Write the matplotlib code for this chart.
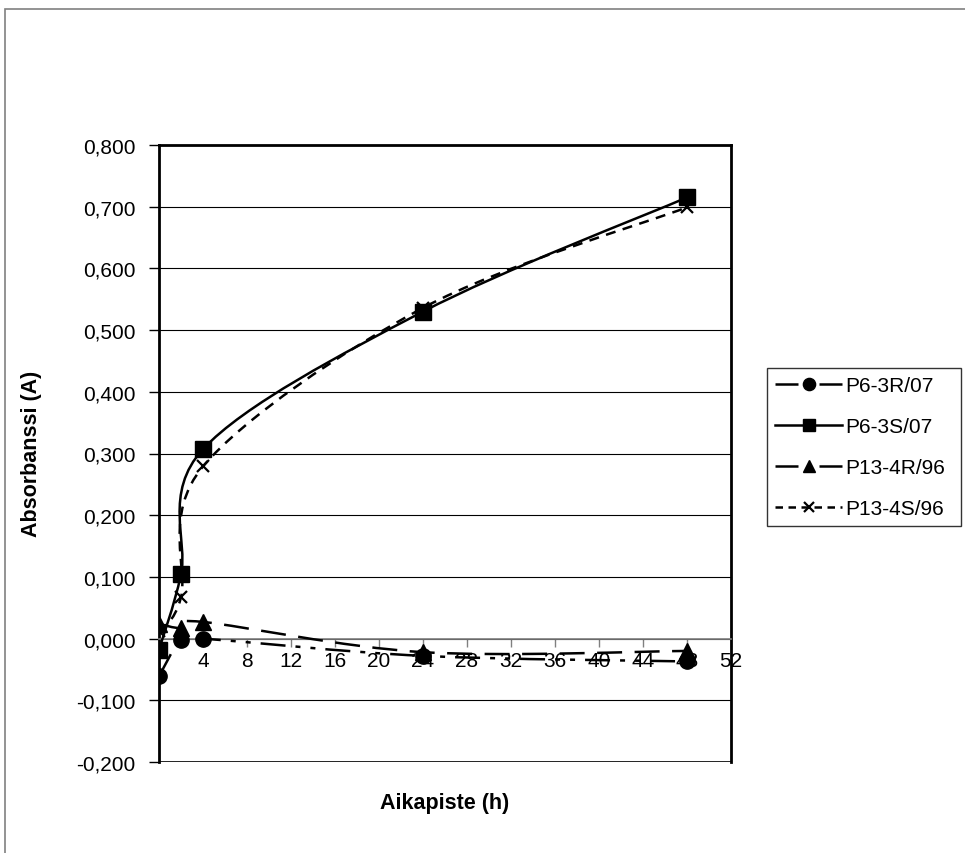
import matplotlib
matplotlib.use("Agg")
import matplotlib.pyplot as plt
import numpy as np
from matplotlib.path import Path
from matplotlib.patches import PathPatch, Rectangle
from matplotlib.lines import Line2D
from matplotlib.ticker import FuncFormatter, MultipleLocator

plt.rcParams["font.family"] = ["Liberation Sans", "DejaVu Sans"]

# data
hours = [0, 2, 4, 24, 48]
p6_3r_07 = [-0.061, -0.002, 0.000, -0.028, -0.037]
p6_3s_07 = [-0.018, 0.104, 0.307, 0.530, 0.715]
p13_4r_96 = [0.024, 0.017, 0.027, -0.022, -0.020]
p13_4s_96 = [0.012, 0.067, 0.279, 0.536, 0.699]
labels = ["P6-3R/07", "P6-3S/07", "P13-4R/96", "P13-4S/96"]

W, H = 965, 854
fig = plt.figure(figsize=(W / 100, H / 100), dpi=100)
fig.patch.set_facecolor("white")

# outer chart border (runs off the right / bottom edge)
fig.patches.append(Rectangle((5 / W, -0.2), 1.5, 1.2 - 10 / H, transform=fig.transFigure,
                             fill=False, edgecolor="#808080", lw=1.2, clip_on=False))

ax = fig.add_axes([159 / W, 1 - 763 / H, (731 - 159) / W, (763 - 146) / H])
ax.set_xlim(0, 52)
ax.set_ylim(-0.2, 0.8)


def smooth(xs, ys):
    # excel-ish smoothed line: cubic bezier, catmull-rom control points
    pts = np.column_stack([xs, ys]).astype(float)
    n = len(pts)
    verts, codes = [pts[0]], [Path.MOVETO]
    for i in range(n - 1):
        p0 = pts[i - 1] if i > 0 else pts[i]
        p1, p2 = pts[i], pts[i + 1]
        p3 = pts[i + 2] if i + 2 < n else pts[i + 1]
        verts += [p1 + (p2 - p0) / 6, p2 - (p3 - p1) / 6, p2]
        codes += [Path.CURVE4] * 3
    return Path(verts, codes)


# (plot linestyle, legend linestyle, marker, size, edge width)
styles = [
    ((0, (10, 4, 2, 4, 2, 4)), (0, (9.2, 8.4)), "o", 11, 1),
    ("-", "-", "s", 11, 1),
    ((0, (10, 5)), (0, (9.2, 8.4)), "^", 11, 1),
    ((0, (4, 3)), (0, (3, 2.2)), "x", 9, 1.6),
]
series = [p6_3r_07, p6_3s_07, p13_4r_96, p13_4s_96]

handles = []
for vals, (ls, lls, mk, ms, mew), lab in zip(series, styles, labels):
    ax.add_patch(PathPatch(smooth(hours, vals), fill=False, edgecolor="black",
                           lw=1.8, linestyle=ls, zorder=3))
    ax.plot(hours, vals, ls="none", marker=mk, ms=ms, mew=mew, color="black", zorder=4)
    handles.append(Line2D([], [], color="black", lw=1.8, linestyle=lls,
                          marker=mk, ms=ms * 0.8, mew=mew, label=lab))

# grid + axes styling
ax.yaxis.set_major_locator(MultipleLocator(0.1))
ax.xaxis.set_major_locator(MultipleLocator(4))
ax.yaxis.grid(True, color="black", lw=0.8)
ax.set_axisbelow(True)
ax.yaxis.set_major_formatter(FuncFormatter(lambda v, p: f"{v:.3f}".replace(".", ",")))
ax.xaxis.set_major_formatter(FuncFormatter(lambda v, p: "" if v == 0 else f"{v:.0f}"))

ax.spines["bottom"].set_position(("data", 0))
ax.spines["bottom"].set_color("#808080")
ax.spines["bottom"].set_linewidth(1.2)
for s in ["left", "top", "right"]:
    ax.spines[s].set_color("black")
    ax.spines[s].set_linewidth(2)
ax.axhline(-0.2, color="black", lw=1.2, zorder=1)

ax.tick_params(axis="y", direction="out", length=7, width=1, pad=10, labelsize=15)
ax.tick_params(axis="x", direction="out", length=6, width=1, color="#808080", pad=3, labelsize=15)

fig.text(32 / W, 1 - 454 / H, "Absorbanssi (A)", rotation=90, ha="center", va="center",
         fontsize=15.5, fontweight="bold")
fig.text(445 / W, 1 - 804 / H, "Aikapiste (h)", ha="center", va="center",
         fontsize=15.5, fontweight="bold")

leg = fig.legend(handles=handles, loc="upper left",
                 bbox_to_anchor=(767 / W, 1 - 538 / H, 194 / W, 169 / H), mode="expand",
                 bbox_transform=fig.transFigure, fontsize=15, frameon=True, fancybox=False,
                 edgecolor="black", labelspacing=1.05, handlelength=3.2, handletextpad=0.15,
                 borderpad=0.4, borderaxespad=0)
leg.get_frame().set_linewidth(1)

fig.savefig("out.png", dpi=100, facecolor="white")
